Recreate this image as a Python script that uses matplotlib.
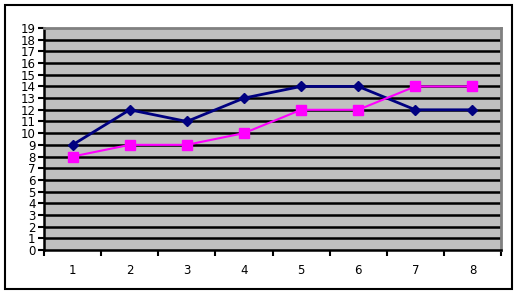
import matplotlib
matplotlib.use("Agg")
import matplotlib.pyplot as plt
from matplotlib.patches import Rectangle

categories = [1, 2, 3, 4, 5, 6, 7, 8]
series_navy = [9, 12, 11, 13, 14, 14, 12, 12]
series_pink = [8, 9, 9, 10, 12, 12, 14, 14]
y_ticks = list(range(0, 20))

W, H = 518, 294
fig = plt.figure(figsize=(W / 100, H / 100), dpi=100)
fig.patch.set_facecolor("white")
fig.add_artist(Rectangle((5 / W, 5 / H), 507 / W, 284 / H, transform=fig.transFigure,
                         fill=False, edgecolor="black", linewidth=1.5))

ax = fig.add_axes([44 / W, 1 - 250 / H, 457 / W, 222 / H])
ax.set_facecolor("#c0c0c0")
ax.set_xlim(0.5, 8.5)
ax.set_ylim(0, 19)

for y in y_ticks[1:-1]:
    ax.axhline(y, color="black", linewidth=1.8, zorder=1)

ax.plot(categories, series_navy, color="#000080", linewidth=2, marker="D", markersize=5.5,
        zorder=3)
ax.plot(categories, series_pink, color="#ff00ff", linewidth=1.5, marker="s", markersize=7,
        zorder=4)

ax.set_yticks(y_ticks)
ax.set_yticklabels([str(v) for v in y_ticks])
ax.set_xticks([c - 0.5 for c in categories] + [8.5])
ax.set_xticklabels([])
ax.set_xticks(categories, minor=True)
ax.set_xticklabels([str(c) for c in categories], minor=True)
ax.tick_params(axis="x", which="minor", length=0, pad=10, labelsize=8.5)
ax.tick_params(axis="x", which="major", direction="out", length=4, width=1.5, color="black")
ax.tick_params(axis="y", direction="out", length=4, width=1.5, color="black", pad=2,
               labelsize=8.5)

for s in ["top", "right"]:
    ax.spines[s].set_color("#808080")
    ax.spines[s].set_linewidth(2)
for s in ["left", "bottom"]:
    ax.spines[s].set_color("black")
    ax.spines[s].set_linewidth(1.8)

fig.savefig("out.png", dpi=100)
